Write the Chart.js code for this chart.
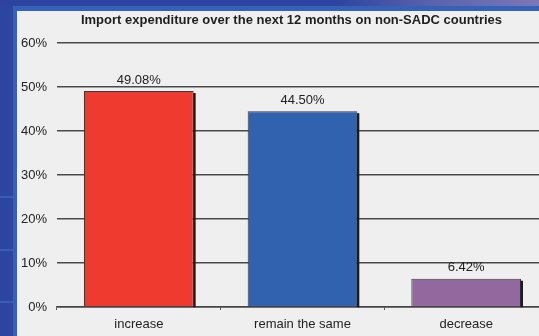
<!DOCTYPE html>
<html>
<head>
<meta charset="utf-8">
<script src="https://cdn.jsdelivr.net/npm/chart.js@4.4.1/dist/chart.umd.min.js"></script>
<style>
  html, body { margin: 0; padding: 0; width: 539px; height: 336px; overflow: hidden; }
  body {
    position: relative;
    background: #2b45a0;
  }
  /* top band: dark blue fading to lilac, lighter blue underline */
  .top-band {
    position: absolute; left: 0; top: 0; width: 539px; height: 6px;
    background: linear-gradient(to right, #2c44a0 0%, #2c44a0 62%, #5a62ac 80%, #7a78b8 100%);
  }
  .top-line {
    position: absolute; left: 14px; top: 6px; width: 525px; height: 5px;
    background: #3462b8;
  }
  .left-line {
    position: absolute; left: 13px; top: 6px; width: 4px; height: 330px;
    background: #3462b8;
  }
  .left-rule {
    position: absolute; left: 0; width: 13px; height: 2px; background: #3a5cb4;
  }
  .panel {
    position: absolute; left: 17px; top: 11px; width: 522px; height: 325px;
    background: #eeefee; overflow: hidden;
  }
  #chart-wrap { position: absolute; left: 0; top: 0; width: 531px; height: 325px; }
</style>
</head>
<body>
<div class="top-band"></div>
<div class="top-line"></div>
<div class="left-line"></div>
<div class="left-rule" style="top:196px"></div>
<div class="left-rule" style="top:249px"></div>
<div class="left-rule" style="top:301px"></div>
<div class="panel">
  <div id="chart-wrap"><canvas id="chart"></canvas></div>
</div>
<script>
// Survey responses: expected change in import spend outside SADC
const categories = ['increase', 'remain the same', 'decrease'];
const shares = [49.08, 44.50, 6.42];
const barColors = ['#ef3a2f', '#3062b0', '#93689e'];
const yTicks = [0, 10, 20, 30, 40, 50, 60];
const chartTitle = 'Import expenditure over the next 12 months on non-SADC countries';

const FONT = '"Liberation Sans", Arial, sans-serif';

// heading sits a little right of the canvas centre, above the plot
const headline = {
  id: 'headline',
  afterDraw(chart) {
    const ctx = chart.ctx;
    ctx.save();
    ctx.fillStyle = '#1e1e1e';
    ctx.font = 'bold 13px ' + FONT;
    ctx.textAlign = 'center';
    ctx.textBaseline = 'middle';
    ctx.fillText(chartTitle, chart.width / 2 + 9, 9.5);
    ctx.restore();
  }
};

// dark right-hand edge on each bar plus the value printed above it
const barDecor = {
  id: 'barDecor',
  afterDatasetsDraw(chart) {
    const ctx = chart.ctx;
    const meta = chart.getDatasetMeta(0);
    ctx.save();
    meta.data.forEach((bar, i) => {
      const right = bar.x + bar.width / 2;
      ctx.fillStyle = '#1c1c1c';
      ctx.fillRect(right - 0.5, bar.y + 2, 2.5, bar.base - bar.y - 1);

      ctx.fillStyle = '#222';
      ctx.font = '13px ' + FONT;
      ctx.textAlign = 'center';
      ctx.textBaseline = 'middle';
      ctx.fillText(shares[i].toFixed(2) + '%', bar.x, bar.y - 11);
    });
    ctx.restore();
  }
};

new Chart(document.getElementById('chart'), {
  type: 'bar',
  data: {
    labels: categories,
    datasets: [{
      data: shares,
      backgroundColor: barColors,
      borderColor: '#3a3a3a',
      borderWidth: 1,
      barPercentage: 0.67,
      categoryPercentage: 1
    }]
  },
  options: {
    responsive: true,
    maintainAspectRatio: false,
    animation: false,
    layout: { padding: { top: 32, right: 0, bottom: 0, left: 0 } },
    plugins: {
      legend: { display: false },
      tooltip: { enabled: false },
      title: { display: false }
    },
    scales: {
      x: {
        afterFit(scale) { scale.height = 29; },
        grid: {
          offset: true,
          drawOnChartArea: false,
          drawTicks: true,
          tickLength: 3,
          color: '#555'
        },
        border: { display: true, color: '#444', width: 1.5 },
        ticks: {
          color: '#222',
          padding: 7,
          font: { family: FONT, size: 13 }
        }
      },
      y: {
        min: 0,
        max: 60,
        afterFit(scale) { scale.width = 40; },
        afterBuildTicks(scale) { scale.ticks = yTicks.map(v => ({ value: v })); },
        grid: { drawTicks: false, color: '#4a4a4a', lineWidth: 1.5 },
        border: { display: false },
        ticks: {
          color: '#222',
          padding: 10,
          font: { family: FONT, size: 13 },
          callback: v => v + '%'
        }
      }
    }
  },
  plugins: [barDecor, headline]
});
</script>
</body>
</html>
